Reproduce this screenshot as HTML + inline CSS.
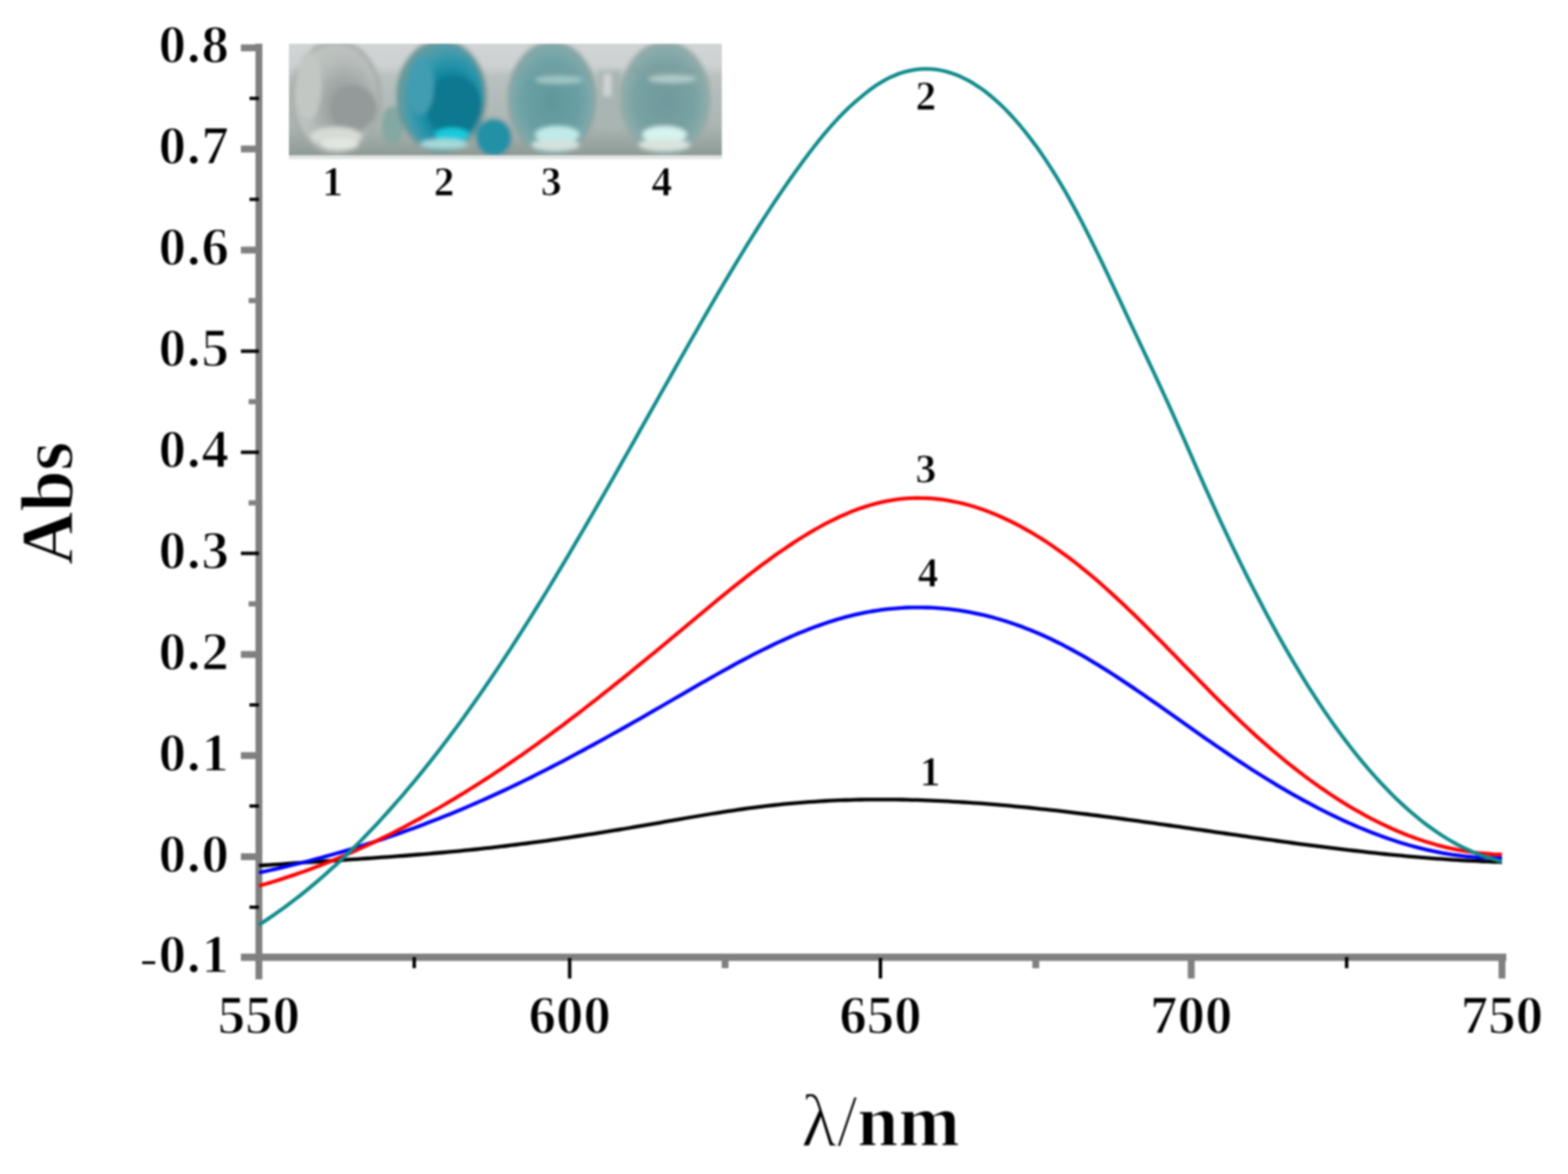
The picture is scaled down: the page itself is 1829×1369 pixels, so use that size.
<!DOCTYPE html>
<html><head><meta charset="utf-8"><title>Abs spectra</title>
<style>html,body{margin:0;padding:0;background:#fff;} body{width:1829px;height:1369px;overflow:hidden;} svg{display:block;filter:blur(0.9px);}</style>
</head><body>
<svg width="1829" height="1369" viewBox="0 0 1829 1369"><rect x="298" y="51" width="8" height="1091" fill="#808080"/>
<rect x="281" y="1112" width="1476" height="8.5" fill="#808080"/>
<rect x="281" y="51.8" width="18" height="8" fill="#808080"/>
<rect x="281" y="169.7" width="18" height="8" fill="#808080"/>
<rect x="281" y="287.6" width="18" height="8" fill="#808080"/>
<rect x="281" y="407.5" width="21" height="4" fill="#000"/>
<rect x="281" y="525.4" width="21" height="4" fill="#000"/>
<rect x="281" y="643.3" width="21" height="4" fill="#000"/>
<rect x="281" y="759.2" width="18" height="8" fill="#808080"/>
<rect x="281" y="877.1" width="18" height="8" fill="#808080"/>
<rect x="281" y="995.0" width="18" height="8" fill="#808080"/>
<rect x="291" y="112.8" width="11" height="3.8" fill="#000"/>
<rect x="291" y="230.6" width="11" height="3.8" fill="#000"/>
<rect x="290" y="347.5" width="9" height="6" fill="#808080"/>
<rect x="290" y="465.4" width="9" height="6" fill="#808080"/>
<rect x="290" y="583.4" width="9" height="6" fill="#808080"/>
<rect x="290" y="701.2" width="9" height="6" fill="#808080"/>
<rect x="291" y="820.1" width="11" height="3.8" fill="#000"/>
<rect x="291" y="938.0" width="11" height="3.8" fill="#000"/>
<rect x="291" y="1056.0" width="11" height="3.8" fill="#000"/>
<rect x="662.5" y="1117" width="4" height="24" fill="#000"/>
<rect x="1025.0" y="1117" width="4" height="24" fill="#000"/>
<rect x="1385.5" y="1120" width="8" height="21" fill="#808080"/>
<rect x="1748.0" y="1120" width="8" height="21" fill="#808080"/>
<rect x="481.2" y="1116" width="4" height="13" fill="#000"/>
<rect x="841.8" y="1116" width="8" height="13" fill="#808080"/>
<rect x="1204.2" y="1116" width="8" height="13" fill="#808080"/>
<rect x="1568.8" y="1116" width="4" height="13" fill="#000"/>
<text x="268" y="73.3" font-family="Liberation Serif, Times New Roman, serif" font-weight="bold" stroke="#fff" stroke-width="1.4" font-size="64" text-anchor="end" letter-spacing="1">0.8</text>
<text x="268" y="191.2" font-family="Liberation Serif, Times New Roman, serif" font-weight="bold" stroke="#fff" stroke-width="1.4" font-size="64" text-anchor="end" letter-spacing="1">0.7</text>
<text x="268" y="309.1" font-family="Liberation Serif, Times New Roman, serif" font-weight="bold" stroke="#fff" stroke-width="1.4" font-size="64" text-anchor="end" letter-spacing="1">0.6</text>
<text x="268" y="427.0" font-family="Liberation Serif, Times New Roman, serif" font-weight="bold" stroke="#fff" stroke-width="1.4" font-size="64" text-anchor="end" letter-spacing="1">0.5</text>
<text x="268" y="544.9" font-family="Liberation Serif, Times New Roman, serif" font-weight="bold" stroke="#fff" stroke-width="1.4" font-size="64" text-anchor="end" letter-spacing="1">0.4</text>
<text x="268" y="662.8" font-family="Liberation Serif, Times New Roman, serif" font-weight="bold" stroke="#fff" stroke-width="1.4" font-size="64" text-anchor="end" letter-spacing="1">0.3</text>
<text x="268" y="780.7" font-family="Liberation Serif, Times New Roman, serif" font-weight="bold" stroke="#fff" stroke-width="1.4" font-size="64" text-anchor="end" letter-spacing="1">0.2</text>
<text x="268" y="898.6" font-family="Liberation Serif, Times New Roman, serif" font-weight="bold" stroke="#fff" stroke-width="1.4" font-size="64" text-anchor="end" letter-spacing="1">0.1</text>
<text x="268" y="1016.5" font-family="Liberation Serif, Times New Roman, serif" font-weight="bold" stroke="#fff" stroke-width="1.4" font-size="64" text-anchor="end" letter-spacing="1">0.0</text>
<text x="268" y="1134.4" font-family="Liberation Serif, Times New Roman, serif" font-weight="bold" stroke="#fff" stroke-width="1.4" font-size="64" text-anchor="end" letter-spacing="1"><tspan font-weight="normal" dy="4">-</tspan><tspan dy="-4">0.1</tspan></text>
<text x="302.0" y="1204.5" font-family="Liberation Serif, Times New Roman, serif" font-weight="bold" stroke="#fff" stroke-width="1.4" font-size="64" text-anchor="middle">550</text>
<text x="664.5" y="1204.5" font-family="Liberation Serif, Times New Roman, serif" font-weight="bold" stroke="#fff" stroke-width="1.4" font-size="64" text-anchor="middle">600</text>
<text x="1027.0" y="1204.5" font-family="Liberation Serif, Times New Roman, serif" font-weight="bold" stroke="#fff" stroke-width="1.4" font-size="64" text-anchor="middle">650</text>
<text x="1389.5" y="1204.5" font-family="Liberation Serif, Times New Roman, serif" font-weight="bold" stroke="#fff" stroke-width="1.4" font-size="64" text-anchor="middle">700</text>
<text x="1752.0" y="1204.5" font-family="Liberation Serif, Times New Roman, serif" font-weight="bold" stroke="#fff" stroke-width="1.4" font-size="64" text-anchor="middle">750</text>
<text transform="translate(84,587) rotate(-90)" font-family="Liberation Serif, Times New Roman, serif" font-weight="bold" stroke="#fff" stroke-width="1.4" font-size="86" text-anchor="middle">Abs</text>
<text x="1027" y="1336" font-family="Liberation Serif, Times New Roman, serif" font-weight="bold" stroke="#fff" stroke-width="1.4" font-size="86" text-anchor="middle"><tspan font-weight="normal">&#955;/</tspan>nm</text>
<path d="M302.0,1009.4 L308.0,1009.0 L314.0,1008.6 L320.0,1008.2 L326.0,1007.8 L332.0,1007.3 L338.0,1006.9 L344.0,1006.5 L350.0,1006.1 L356.0,1005.7 L362.0,1005.4 L368.0,1005.0 L374.0,1004.6 L380.0,1004.2 L386.0,1003.8 L392.0,1003.4 L398.0,1003.0 L404.0,1002.6 L410.0,1002.2 L416.0,1001.8 L422.0,1001.4 L428.0,1001.0 L434.0,1000.6 L440.0,1000.1 L446.0,999.7 L452.0,999.3 L458.0,998.9 L464.0,998.4 L470.0,998.0 L476.0,997.5 L482.0,997.0 L488.0,996.5 L494.0,996.1 L500.0,995.6 L506.0,995.0 L512.0,994.5 L518.0,994.0 L524.0,993.4 L530.0,992.9 L536.0,992.3 L542.0,991.7 L548.0,991.1 L554.0,990.5 L560.0,989.9 L566.0,989.2 L572.0,988.6 L578.0,987.9 L584.0,987.2 L590.0,986.5 L596.0,985.7 L602.0,985.0 L608.0,984.2 L614.0,983.5 L620.0,982.7 L626.0,981.9 L632.0,981.1 L638.0,980.3 L644.0,979.4 L650.0,978.6 L656.0,977.7 L662.0,976.8 L668.0,975.9 L674.0,975.0 L680.0,974.1 L686.0,973.2 L692.0,972.3 L698.0,971.3 L704.0,970.4 L710.0,969.4 L716.0,968.4 L722.0,967.5 L728.0,966.5 L734.0,965.5 L740.0,964.4 L746.0,963.4 L752.0,962.4 L758.0,961.3 L764.0,960.3 L770.0,959.3 L776.0,958.2 L782.0,957.2 L788.0,956.1 L794.0,955.1 L800.0,954.0 L806.0,953.0 L812.0,952.0 L818.0,951.0 L824.0,950.0 L830.0,949.0 L836.0,948.1 L842.0,947.1 L848.0,946.2 L854.0,945.3 L860.0,944.4 L866.0,943.5 L872.0,942.7 L878.0,941.9 L884.0,941.1 L890.0,940.4 L896.0,939.6 L902.0,939.0 L908.0,938.3 L914.0,937.7 L920.0,937.1 L926.0,936.6 L932.0,936.1 L938.0,935.6 L944.0,935.2 L950.0,934.8 L956.0,934.4 L962.0,934.0 L968.0,933.7 L974.0,933.4 L980.0,933.2 L986.0,933.0 L992.0,932.8 L998.0,932.6 L1004.0,932.5 L1010.0,932.4 L1016.0,932.3 L1022.0,932.3 L1028.0,932.3 L1034.0,932.3 L1040.0,932.3 L1046.0,932.4 L1052.0,932.5 L1058.0,932.6 L1064.0,932.8 L1070.0,932.9 L1076.0,933.1 L1082.0,933.3 L1088.0,933.6 L1094.0,933.8 L1100.0,934.1 L1106.0,934.4 L1112.0,934.8 L1118.0,935.1 L1124.0,935.5 L1130.0,935.9 L1136.0,936.3 L1142.0,936.7 L1148.0,937.2 L1154.0,937.6 L1160.0,938.1 L1166.0,938.6 L1172.0,939.2 L1178.0,939.7 L1184.0,940.3 L1190.0,940.8 L1196.0,941.4 L1202.0,942.0 L1208.0,942.6 L1214.0,943.3 L1220.0,943.9 L1226.0,944.6 L1232.0,945.2 L1238.0,945.9 L1244.0,946.6 L1250.0,947.3 L1256.0,948.1 L1262.0,948.8 L1268.0,949.5 L1274.0,950.3 L1280.0,951.0 L1286.0,951.8 L1292.0,952.6 L1298.0,953.4 L1304.0,954.2 L1310.0,955.0 L1316.0,955.8 L1322.0,956.6 L1328.0,957.4 L1334.0,958.3 L1340.0,959.1 L1346.0,959.9 L1352.0,960.8 L1358.0,961.6 L1364.0,962.5 L1370.0,963.3 L1376.0,964.2 L1382.0,965.1 L1388.0,965.9 L1394.0,966.8 L1400.0,967.7 L1406.0,968.5 L1412.0,969.4 L1418.0,970.3 L1424.0,971.1 L1430.0,972.0 L1436.0,972.9 L1442.0,973.7 L1448.0,974.6 L1454.0,975.4 L1460.0,976.3 L1466.0,977.1 L1472.0,978.0 L1478.0,978.8 L1484.0,979.7 L1490.0,980.5 L1496.0,981.3 L1502.0,982.1 L1508.0,983.0 L1514.0,983.8 L1520.0,984.6 L1526.0,985.3 L1532.0,986.1 L1538.0,986.9 L1544.0,987.7 L1550.0,988.4 L1556.0,989.2 L1562.0,989.9 L1568.0,990.6 L1574.0,991.3 L1580.0,992.0 L1586.0,992.7 L1592.0,993.4 L1598.0,994.1 L1604.0,994.7 L1610.0,995.3 L1616.0,996.0 L1622.0,996.6 L1628.0,997.2 L1634.0,997.7 L1640.0,998.3 L1646.0,998.8 L1652.0,999.4 L1658.0,999.9 L1664.0,1000.4 L1670.0,1000.8 L1676.0,1001.3 L1682.0,1001.7 L1688.0,1002.2 L1694.0,1002.6 L1700.0,1002.9 L1706.0,1003.3 L1712.0,1003.6 L1718.0,1003.9 L1724.0,1004.2 L1730.0,1004.5 L1736.0,1004.7 L1742.0,1005.0 L1748.0,1005.2 L1752.0,1005.3" fill="none" stroke="#000000" stroke-width="4.3" stroke-linejoin="round"/>
<path d="M302.0,1017.5 L308.0,1016.3 L314.0,1015.0 L320.0,1013.6 L326.0,1012.3 L332.0,1010.9 L338.0,1009.5 L344.0,1008.0 L350.0,1006.5 L356.0,1005.0 L362.0,1003.5 L368.0,1001.9 L374.0,1000.3 L380.0,998.7 L386.0,997.0 L392.0,995.3 L398.0,993.6 L404.0,991.8 L410.0,990.0 L416.0,988.2 L422.0,986.3 L428.0,984.4 L434.0,982.5 L440.0,980.5 L446.0,978.6 L452.0,976.5 L458.0,974.5 L464.0,972.4 L470.0,970.3 L476.0,968.1 L482.0,965.9 L488.0,963.7 L494.0,961.4 L500.0,959.1 L506.0,956.8 L512.0,954.5 L518.0,952.1 L524.0,949.7 L530.0,947.2 L536.0,944.7 L542.0,942.2 L548.0,939.6 L554.0,937.0 L560.0,934.4 L566.0,931.7 L572.0,929.0 L578.0,926.3 L584.0,923.5 L590.0,920.7 L596.0,917.9 L602.0,915.0 L608.0,912.1 L614.0,909.1 L620.0,906.2 L626.0,903.2 L632.0,900.1 L638.0,897.1 L644.0,894.0 L650.0,890.9 L656.0,887.8 L662.0,884.6 L668.0,881.4 L674.0,878.2 L680.0,875.0 L686.0,871.7 L692.0,868.5 L698.0,865.2 L704.0,861.9 L710.0,858.5 L716.0,855.2 L722.0,851.8 L728.0,848.5 L734.0,845.1 L740.0,841.7 L746.0,838.3 L752.0,834.8 L758.0,831.4 L764.0,827.9 L770.0,824.5 L776.0,821.0 L782.0,817.5 L788.0,814.0 L794.0,810.6 L800.0,807.1 L806.0,803.6 L812.0,800.1 L818.0,796.7 L824.0,793.3 L830.0,789.9 L836.0,786.5 L842.0,783.1 L848.0,779.8 L854.0,776.5 L860.0,773.2 L866.0,770.0 L872.0,766.8 L878.0,763.7 L884.0,760.6 L890.0,757.6 L896.0,754.7 L902.0,751.8 L908.0,748.9 L914.0,746.2 L920.0,743.5 L926.0,740.9 L932.0,738.3 L938.0,735.9 L944.0,733.5 L950.0,731.2 L956.0,729.1 L962.0,727.0 L968.0,725.0 L974.0,723.1 L980.0,721.3 L986.0,719.7 L992.0,718.1 L998.0,716.7 L1004.0,715.3 L1010.0,714.1 L1016.0,713.0 L1022.0,712.1 L1028.0,711.2 L1034.0,710.4 L1040.0,709.8 L1046.0,709.3 L1052.0,708.8 L1058.0,708.5 L1064.0,708.4 L1070.0,708.3 L1076.0,708.3 L1082.0,708.5 L1088.0,708.7 L1094.0,709.1 L1100.0,709.6 L1106.0,710.2 L1112.0,710.9 L1118.0,711.7 L1124.0,712.6 L1130.0,713.7 L1136.0,714.8 L1142.0,716.1 L1148.0,717.4 L1154.0,718.9 L1160.0,720.5 L1166.0,722.2 L1172.0,724.0 L1178.0,726.0 L1184.0,728.0 L1190.0,730.1 L1196.0,732.4 L1202.0,734.7 L1208.0,737.2 L1214.0,739.8 L1220.0,742.5 L1226.0,745.3 L1232.0,748.2 L1238.0,751.2 L1244.0,754.3 L1250.0,757.5 L1256.0,760.8 L1262.0,764.2 L1268.0,767.7 L1274.0,771.3 L1280.0,774.9 L1286.0,778.6 L1292.0,782.4 L1298.0,786.2 L1304.0,790.1 L1310.0,794.1 L1316.0,798.1 L1322.0,802.1 L1328.0,806.2 L1334.0,810.3 L1340.0,814.5 L1346.0,818.6 L1352.0,822.8 L1358.0,827.1 L1364.0,831.3 L1370.0,835.5 L1376.0,839.8 L1382.0,844.0 L1388.0,848.2 L1394.0,852.5 L1400.0,856.7 L1406.0,860.9 L1412.0,865.1 L1418.0,869.2 L1424.0,873.3 L1430.0,877.4 L1436.0,881.5 L1442.0,885.5 L1448.0,889.4 L1454.0,893.3 L1460.0,897.2 L1466.0,901.0 L1472.0,904.8 L1478.0,908.5 L1484.0,912.2 L1490.0,915.8 L1496.0,919.3 L1502.0,922.8 L1508.0,926.3 L1514.0,929.7 L1520.0,933.0 L1526.0,936.2 L1532.0,939.4 L1538.0,942.6 L1544.0,945.6 L1550.0,948.6 L1556.0,951.5 L1562.0,954.4 L1568.0,957.2 L1574.0,959.9 L1580.0,962.5 L1586.0,965.1 L1592.0,967.6 L1598.0,970.0 L1604.0,972.3 L1610.0,974.5 L1616.0,976.7 L1622.0,978.8 L1628.0,980.8 L1634.0,982.7 L1640.0,984.5 L1646.0,986.2 L1652.0,987.8 L1658.0,989.4 L1664.0,990.8 L1670.0,992.2 L1676.0,993.4 L1682.0,994.6 L1688.0,995.6 L1694.0,996.6 L1700.0,997.4 L1706.0,998.2 L1712.0,998.8 L1718.0,999.4 L1724.0,999.8 L1730.0,1000.1 L1736.0,1000.3 L1742.0,1000.4 L1748.0,1000.4 L1752.0,1000.3" fill="none" stroke="#0000ff" stroke-width="4.3" stroke-linejoin="round"/>
<path d="M302.0,1033.0 L308.0,1031.3 L314.0,1029.6 L320.0,1027.7 L326.0,1025.9 L332.0,1023.9 L338.0,1021.9 L344.0,1019.9 L350.0,1017.8 L356.0,1015.7 L362.0,1013.5 L368.0,1011.2 L374.0,1008.9 L380.0,1006.6 L386.0,1004.2 L392.0,1001.7 L398.0,999.2 L404.0,996.6 L410.0,994.0 L416.0,991.3 L422.0,988.6 L428.0,985.9 L434.0,983.0 L440.0,980.2 L446.0,977.3 L452.0,974.3 L458.0,971.3 L464.0,968.2 L470.0,965.1 L476.0,961.9 L482.0,958.7 L488.0,955.5 L494.0,952.2 L500.0,948.8 L506.0,945.4 L512.0,942.0 L518.0,938.5 L524.0,934.9 L530.0,931.4 L536.0,927.7 L542.0,924.1 L548.0,920.3 L554.0,916.6 L560.0,912.8 L566.0,908.9 L572.0,905.0 L578.0,901.0 L584.0,897.1 L590.0,893.0 L596.0,888.9 L602.0,884.8 L608.0,880.7 L614.0,876.4 L620.0,872.2 L626.0,867.9 L632.0,863.6 L638.0,859.2 L644.0,854.8 L650.0,850.3 L656.0,845.9 L662.0,841.3 L668.0,836.8 L674.0,832.2 L680.0,827.6 L686.0,822.9 L692.0,818.3 L698.0,813.6 L704.0,808.8 L710.0,804.1 L716.0,799.3 L722.0,794.5 L728.0,789.7 L734.0,784.8 L740.0,779.9 L746.0,775.0 L752.0,770.1 L758.0,765.2 L764.0,760.3 L770.0,755.3 L776.0,750.3 L782.0,745.3 L788.0,740.3 L794.0,735.3 L800.0,730.3 L806.0,725.3 L812.0,720.3 L818.0,715.3 L824.0,710.3 L830.0,705.3 L836.0,700.4 L842.0,695.5 L848.0,690.6 L854.0,685.8 L860.0,681.0 L866.0,676.2 L872.0,671.5 L878.0,666.9 L884.0,662.3 L890.0,657.8 L896.0,653.4 L902.0,649.1 L908.0,644.8 L914.0,640.7 L920.0,636.6 L926.0,632.6 L932.0,628.8 L938.0,625.0 L944.0,621.4 L950.0,617.9 L956.0,614.5 L962.0,611.2 L968.0,608.1 L974.0,605.2 L980.0,602.3 L986.0,599.7 L992.0,597.1 L998.0,594.8 L1004.0,592.6 L1010.0,590.6 L1016.0,588.8 L1022.0,587.1 L1028.0,585.6 L1034.0,584.4 L1040.0,583.3 L1046.0,582.4 L1052.0,581.7 L1058.0,581.2 L1064.0,580.9 L1070.0,580.7 L1076.0,580.8 L1082.0,581.0 L1088.0,581.4 L1094.0,582.0 L1100.0,582.7 L1106.0,583.7 L1112.0,584.8 L1118.0,586.0 L1124.0,587.4 L1130.0,589.0 L1136.0,590.8 L1142.0,592.7 L1148.0,594.8 L1154.0,597.0 L1160.0,599.4 L1166.0,602.0 L1172.0,604.7 L1178.0,607.5 L1184.0,610.5 L1190.0,613.7 L1196.0,617.0 L1202.0,620.4 L1208.0,624.0 L1214.0,627.7 L1220.0,631.5 L1226.0,635.5 L1232.0,639.7 L1238.0,643.9 L1244.0,648.3 L1250.0,652.8 L1256.0,657.4 L1262.0,662.2 L1268.0,667.1 L1274.0,672.1 L1280.0,677.2 L1286.0,682.5 L1292.0,687.8 L1298.0,693.3 L1304.0,698.8 L1310.0,704.4 L1316.0,710.2 L1322.0,715.9 L1328.0,721.8 L1334.0,727.7 L1340.0,733.7 L1346.0,739.7 L1352.0,745.8 L1358.0,751.8 L1364.0,758.0 L1370.0,764.1 L1376.0,770.2 L1382.0,776.4 L1388.0,782.5 L1394.0,788.6 L1400.0,794.7 L1406.0,800.8 L1412.0,806.9 L1418.0,812.9 L1424.0,818.9 L1430.0,824.8 L1436.0,830.6 L1442.0,836.4 L1448.0,842.2 L1454.0,847.8 L1460.0,853.4 L1466.0,858.8 L1472.0,864.2 L1478.0,869.4 L1484.0,874.6 L1490.0,879.7 L1496.0,884.7 L1502.0,889.6 L1508.0,894.3 L1514.0,899.0 L1520.0,903.6 L1526.0,908.1 L1532.0,912.5 L1538.0,916.8 L1544.0,920.9 L1550.0,925.0 L1556.0,929.0 L1562.0,932.9 L1568.0,936.6 L1574.0,940.3 L1580.0,943.8 L1586.0,947.2 L1592.0,950.6 L1598.0,953.8 L1604.0,956.9 L1610.0,959.9 L1616.0,962.8 L1622.0,965.5 L1628.0,968.2 L1634.0,970.7 L1640.0,973.2 L1646.0,975.5 L1652.0,977.7 L1658.0,979.7 L1664.0,981.7 L1670.0,983.5 L1676.0,985.3 L1682.0,986.9 L1688.0,988.3 L1694.0,989.7 L1700.0,990.9 L1706.0,992.0 L1712.0,993.0 L1718.0,993.9 L1724.0,994.6 L1730.0,995.2 L1736.0,995.7 L1742.0,996.1 L1748.0,996.3 L1752.0,996.4" fill="none" stroke="#ff0000" stroke-width="4.3" stroke-linejoin="round"/>
<path d="M302.0,1078.5 L308.0,1074.6 L314.0,1070.6 L320.0,1066.5 L326.0,1062.3 L332.0,1058.0 L338.0,1053.5 L344.0,1048.9 L350.0,1044.3 L356.0,1039.5 L362.0,1034.5 L368.0,1029.5 L374.0,1024.4 L380.0,1019.1 L386.0,1013.7 L392.0,1008.3 L398.0,1002.7 L404.0,997.0 L410.0,991.1 L416.0,985.2 L422.0,979.2 L428.0,973.0 L434.0,966.7 L440.0,960.4 L446.0,953.9 L452.0,947.3 L458.0,940.5 L464.0,933.7 L470.0,926.8 L476.0,919.7 L482.0,912.6 L488.0,905.3 L494.0,897.9 L500.0,890.4 L506.0,882.8 L512.0,875.1 L518.0,867.3 L524.0,859.4 L530.0,851.3 L536.0,843.2 L542.0,834.9 L548.0,826.6 L554.0,818.1 L560.0,809.5 L566.0,800.8 L572.0,792.0 L578.0,783.1 L584.0,774.1 L590.0,765.0 L596.0,755.8 L602.0,746.5 L608.0,737.2 L614.0,727.7 L620.0,718.1 L626.0,708.5 L632.0,698.8 L638.0,689.0 L644.0,679.1 L650.0,669.2 L656.0,659.2 L662.0,649.1 L668.0,638.9 L674.0,628.7 L680.0,618.5 L686.0,608.2 L692.0,597.8 L698.0,587.4 L704.0,577.0 L710.0,566.5 L716.0,556.0 L722.0,545.4 L728.0,534.8 L734.0,524.2 L740.0,513.6 L746.0,502.9 L752.0,492.3 L758.0,481.6 L764.0,471.0 L770.0,460.3 L776.0,449.7 L782.0,439.1 L788.0,428.4 L794.0,417.8 L800.0,407.3 L806.0,396.7 L812.0,386.2 L818.0,375.8 L824.0,365.4 L830.0,355.0 L836.0,344.7 L842.0,334.5 L848.0,324.4 L854.0,314.3 L860.0,304.3 L866.0,294.5 L872.0,284.7 L878.0,275.1 L884.0,265.5 L890.0,256.1 L896.0,246.9 L902.0,237.7 L908.0,228.7 L914.0,219.9 L920.0,211.2 L926.0,202.7 L932.0,194.4 L938.0,186.2 L944.0,178.2 L950.0,170.5 L956.0,162.9 L962.0,155.6 L968.0,148.6 L974.0,141.9 L980.0,135.5 L986.0,129.4 L992.0,123.8 L998.0,118.4 L1004.0,113.3 L1010.0,108.4 L1016.0,103.8 L1022.0,99.5 L1028.0,95.8 L1034.0,92.4 L1040.0,89.4 L1046.0,86.9 L1052.0,84.8 L1058.0,83.1 L1064.0,81.8 L1070.0,80.9 L1076.0,80.4 L1082.0,80.3 L1088.0,80.7 L1094.0,81.4 L1100.0,82.5 L1106.0,84.1 L1112.0,86.0 L1118.0,88.3 L1124.0,91.1 L1130.0,94.2 L1136.0,97.7 L1142.0,101.6 L1148.0,105.8 L1154.0,110.5 L1160.0,115.6 L1166.0,121.0 L1172.0,126.8 L1178.0,133.0 L1184.0,139.6 L1190.0,146.5 L1196.0,153.9 L1202.0,161.6 L1208.0,169.6 L1214.0,178.1 L1220.0,186.9 L1226.0,196.1 L1232.0,205.7 L1238.0,215.6 L1244.0,225.9 L1250.0,236.6 L1256.0,247.6 L1262.0,259.0 L1268.0,270.7 L1274.0,282.7 L1280.0,294.9 L1286.0,307.3 L1292.0,319.9 L1298.0,332.6 L1304.0,345.4 L1310.0,358.2 L1316.0,371.1 L1322.0,383.9 L1328.0,396.6 L1334.0,409.3 L1340.0,422.0 L1346.0,434.7 L1352.0,447.6 L1358.0,460.6 L1364.0,473.7 L1370.0,487.1 L1376.0,500.6 L1382.0,514.2 L1388.0,527.9 L1394.0,541.6 L1400.0,555.3 L1406.0,568.8 L1412.0,582.2 L1418.0,595.4 L1424.0,608.4 L1430.0,621.2 L1436.0,633.9 L1442.0,646.3 L1448.0,658.6 L1454.0,670.7 L1460.0,682.6 L1466.0,694.3 L1472.0,705.8 L1478.0,717.2 L1484.0,728.3 L1490.0,739.2 L1496.0,749.9 L1502.0,760.4 L1508.0,770.7 L1514.0,780.7 L1520.0,790.6 L1526.0,800.3 L1532.0,809.7 L1538.0,818.9 L1544.0,827.9 L1550.0,836.6 L1556.0,845.2 L1562.0,853.5 L1568.0,861.6 L1574.0,869.5 L1580.0,877.2 L1586.0,884.6 L1592.0,891.9 L1598.0,898.9 L1604.0,905.7 L1610.0,912.3 L1616.0,918.6 L1622.0,924.8 L1628.0,930.7 L1634.0,936.4 L1640.0,941.9 L1646.0,947.2 L1652.0,952.2 L1658.0,957.1 L1664.0,961.7 L1670.0,966.1 L1676.0,970.3 L1682.0,974.2 L1688.0,978.0 L1694.0,981.5 L1700.0,984.8 L1706.0,987.9 L1712.0,990.8 L1718.0,993.5 L1724.0,995.9 L1730.0,998.2 L1736.0,1000.2 L1742.0,1002.0 L1748.0,1003.6 L1752.0,1004.5" fill="none" stroke="#0f8a8a" stroke-width="4.3" stroke-linejoin="round"/>
<text x="1080" y="127.5" font-family="Liberation Serif, Times New Roman, serif" font-weight="bold" stroke="#fff" stroke-width="0.7" font-size="48" text-anchor="middle">2</text>
<text x="1080" y="562.5" font-family="Liberation Serif, Times New Roman, serif" font-weight="bold" stroke="#fff" stroke-width="0.7" font-size="48" text-anchor="middle">3</text>
<text x="1082.5" y="684" font-family="Liberation Serif, Times New Roman, serif" font-weight="bold" stroke="#fff" stroke-width="0.7" font-size="48" text-anchor="middle">4</text>
<text x="1085" y="915.5" font-family="Liberation Serif, Times New Roman, serif" font-weight="bold" stroke="#fff" stroke-width="0.7" font-size="48" text-anchor="middle">1</text>
<defs>
<clipPath id="pc"><rect x="337" y="51" width="505" height="130"/></clipPath>
<filter id="pb" x="-10%" y="-10%" width="120%" height="120%"><feGaussianBlur stdDeviation="2.4"/></filter>
<linearGradient id="bg" x1="0" y1="0" x2="0" y2="1"><stop offset="0" stop-color="#d2d5d6"/><stop offset="0.22" stop-color="#cdd1d1"/><stop offset="0.3" stop-color="#b9c1bf"/><stop offset="0.7" stop-color="#abb5b2"/><stop offset="1" stop-color="#87948f"/></linearGradient>
<radialGradient id="w1" cx="0.6" cy="0.58" r="0.6"><stop offset="0" stop-color="#959c9b"/><stop offset="0.35" stop-color="#9ea5a3"/><stop offset="0.7" stop-color="#b7bdba"/><stop offset="1" stop-color="#bfc5c1"/></radialGradient>
<radialGradient id="w2" cx="0.6" cy="0.58" r="0.6"><stop offset="0" stop-color="#067692"/><stop offset="0.4" stop-color="#0a7f9a"/><stop offset="0.62" stop-color="#2593a9"/><stop offset="0.85" stop-color="#4b9dac"/><stop offset="1" stop-color="#6c9a99"/></radialGradient>
<radialGradient id="w3" cx="0.5" cy="0.52" r="0.55"><stop offset="0" stop-color="#5f979b"/><stop offset="0.6" stop-color="#6aa0a5"/><stop offset="0.85" stop-color="#7ea9ab"/><stop offset="1" stop-color="#8ea6a3"/></radialGradient>
<radialGradient id="w4" cx="0.5" cy="0.52" r="0.55"><stop offset="0" stop-color="#6f999c"/><stop offset="0.6" stop-color="#78a1a2"/><stop offset="0.85" stop-color="#8aabab"/><stop offset="1" stop-color="#98aeab"/></radialGradient>
</defs>
<g clip-path="url(#pc)"><g filter="url(#pb)">
<rect x="330" y="45" width="520" height="145" fill="url(#bg)"/>
<ellipse cx="392" cy="114" rx="51" ry="65" fill="url(#w1)" stroke="#a3a9a5" stroke-width="4"/>
<ellipse cx="412" cy="126" rx="27" ry="27" fill="#939a99"/>
<ellipse cx="360" cy="100" rx="15" ry="40" fill="#c2c7c4"/>
<ellipse cx="392" cy="159" rx="30" ry="11" fill="#d6dbd5"/>
<ellipse cx="396" cy="168" rx="22" ry="7" fill="#e2e6e0"/>
<ellipse cx="458" cy="146" rx="13" ry="22" fill="#84a8a2"/>
<ellipse cx="515" cy="112" rx="51" ry="64" fill="url(#w2)" stroke="#6c9896" stroke-width="4"/>
<ellipse cx="530" cy="124" rx="32" ry="36" fill="#08788f"/>
<ellipse cx="491" cy="100" rx="15" ry="34" fill="#3f9db2"/>
<ellipse cx="527" cy="157" rx="20" ry="8" fill="#16cbdc"/>
<ellipse cx="518" cy="168" rx="28" ry="6" fill="#a6dada"/>
<ellipse cx="576" cy="160" rx="21" ry="22" fill="#2291a6"/>
<ellipse cx="644" cy="115" rx="50" ry="65" fill="url(#w3)" stroke="#88a4a2" stroke-width="4"/>
<rect x="605" y="80" width="76" height="3" fill="#7e9c9c"/>
<ellipse cx="652" cy="93" rx="28" ry="5" fill="#9fc4c2"/>
<ellipse cx="650" cy="157" rx="26" ry="10" fill="#bfeae8"/>
<ellipse cx="648" cy="169" rx="28" ry="7" fill="#d2e2de"/>
<rect x="698" y="82" width="26" height="70" fill="#a9b5b2"/>
<rect x="704" y="86" width="9" height="26" fill="#cfd6d6"/>
<ellipse cx="776" cy="115" rx="51" ry="65" fill="url(#w4)" stroke="#93aaa6" stroke-width="4"/>
<rect x="737" y="81" width="78" height="3" fill="#889c9c"/>
<ellipse cx="784" cy="92" rx="28" ry="5" fill="#aecac6"/>
<ellipse cx="775" cy="157" rx="26" ry="10" fill="#d6f3ef"/>
<ellipse cx="775" cy="169" rx="30" ry="7" fill="#dae4de"/>
</g></g>
<rect x="337" y="181" width="505" height="4.5" fill="#dfe2e1"/>
<text x="388" y="228" font-family="Liberation Serif, Times New Roman, serif" font-weight="bold" stroke="#fff" stroke-width="0.7" font-size="48" text-anchor="middle">1</text>
<text x="518" y="228" font-family="Liberation Serif, Times New Roman, serif" font-weight="bold" stroke="#fff" stroke-width="0.7" font-size="48" text-anchor="middle">2</text>
<text x="643" y="228" font-family="Liberation Serif, Times New Roman, serif" font-weight="bold" stroke="#fff" stroke-width="0.7" font-size="48" text-anchor="middle">3</text>
<text x="772" y="228" font-family="Liberation Serif, Times New Roman, serif" font-weight="bold" stroke="#fff" stroke-width="0.7" font-size="48" text-anchor="middle">4</text></svg>
</body></html>
